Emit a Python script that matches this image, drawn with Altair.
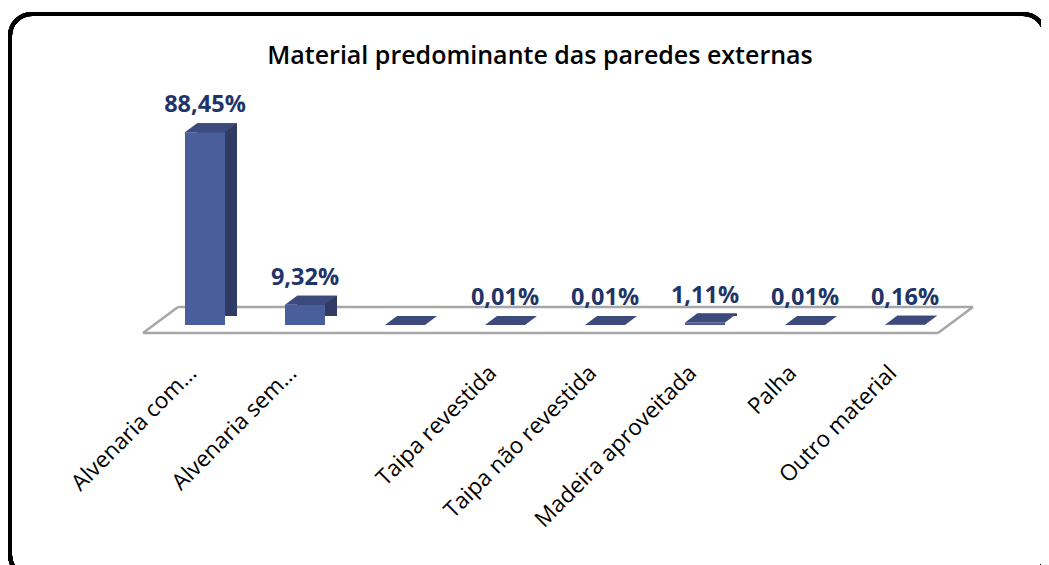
import altair as alt
import pandas as pd

categories = ["Alvenaria com...", "Alvenaria sem...", " ", "Taipa revestida",
              "Taipa não revestida", "Madeira aproveitada", "Palha", "Outro material"]
values = [88.45, 9.32, 0.0, 0.01, 0.01, 1.11, 0.01, 0.16]
value_labels = ["88,45%", "9,32%", "", "0,01%", "0,01%", "1,11%", "0,01%", "0,16%"]
title_text = "Material predominante das paredes externas"

df = pd.DataFrame({"cat": categories, "val": values, "lbl": value_labels})

FONT = "Open Sans"
front = "#4B5E9C"
side = "#2F3B63"
top = "#3C4A7C"

xenc = alt.X("cat:N", sort=categories,
             scale=alt.Scale(paddingInner=0.6, paddingOuter=0.3),
             axis=alt.Axis(title=None, labelAngle=-45, labelAlign="right",
                           labelBaseline="middle", labelFont=FONT, labelFontSize=22.5,
                           labelColor="#000000", labelPadding=44, labelOffset=-12,
                           domain=False, ticks=False, grid=False, labelLimit=300))
yenc = alt.Y("val:Q", scale=alt.Scale(domain=[0, 100]), axis=None)

base = alt.Chart(df)

# decorative frame and floor
frame = base.mark_rect(fill=None, stroke="#000000", strokeWidth=4, cornerRadius=22).encode(
    x=alt.value(-145), x2=alt.value(890), y=alt.value(-93), y2=alt.value(470))

floor_df = pd.DataFrame({
    "x": [23, -12, -12, 783], "x2": [818, 783, 23, 818],
    "y": [200, 226, 226, 226], "y2": [200, 226, 200, 200]})
floor = alt.Chart(floor_df).mark_rule(color="#A6A6A6", strokeWidth=2.5).encode(
    x=alt.X("x:Q", scale=None), x2="x2:Q", y=alt.Y("y:Q", scale=None), y2="y2:Q")

title = alt.Chart(pd.DataFrame({"t": [title_text]})).mark_text(
    font=FONT, fontSize=25, fontWeight=600, color="#000000",
    align="center", baseline="alphabetic").encode(
    x=alt.value(385), y=alt.value(-43), text="t:N")

side_bar = base.mark_bar(color=side, xOffset=12, yOffset=-9).encode(x=xenc, y=yenc)
front_bar = base.mark_bar(color=front).encode(x=xenc, y=yenc)
top_face = base.mark_point(
    shape="M -1 0 L 1 0 L 1.6 -0.45 L -0.4 -0.45 Z", size=1600,
    filled=True, fill=top, opacity=1, strokeWidth=0).encode(x=xenc, y=yenc)
labels = base.mark_text(baseline="bottom", dy=-15, dx=0, font=FONT, fontSize=23.5,
                        fontWeight="bold", color="#1F3468").encode(
    x=xenc, y=yenc, text="lbl:N")

chart = alt.layer(frame, floor, title, side_bar, front_bar, top_face, labels).properties(
    width=800, height=218,
    autosize=alt.AutoSizeParams(type="none"),
    padding={"left": 147, "top": 99, "right": 86, "bottom": 240},
).configure(background="#FFFFFF").configure_view(strokeWidth=0, stroke=None)

chart.save("out.html", embed_options={"renderer": "svg", "actions": False})
